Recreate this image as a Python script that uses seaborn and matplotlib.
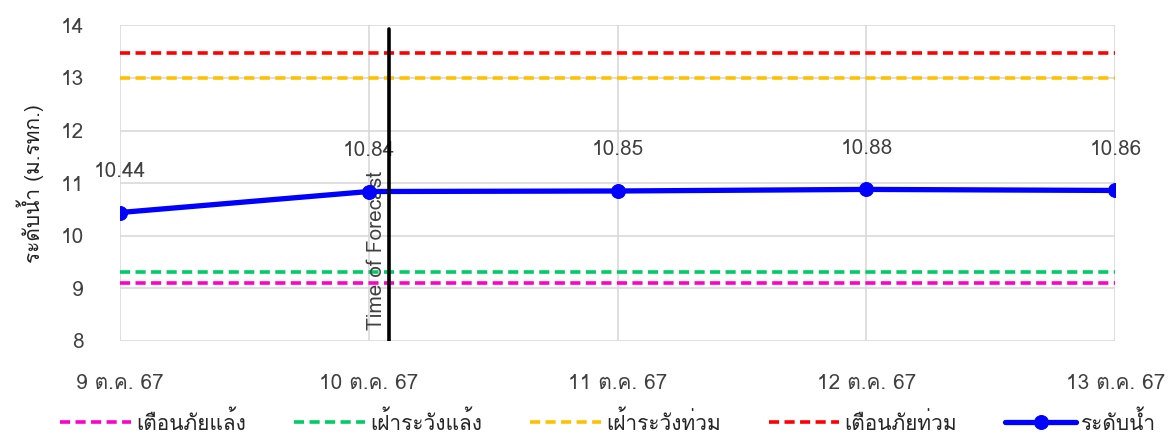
import numpy as np
import pandas as pd
import matplotlib
matplotlib.use("Agg")
import matplotlib.pyplot as plt
import seaborn as sns
from matplotlib import font_manager as fm
from matplotlib.ft2font import FT2Font

# ---- data ----
dates = ["9 ต.ค. 67", "10 ต.ค. 67", "11 ต.ค. 67", "12 ต.ค. 67", "13 ต.ค. 67"]
water_level = [10.44, 10.84, 10.85, 10.88, 10.86]
drought_warning = 9.10      # เตือนภัยแล้ง
drought_watch = 9.30        # เฝ้าระวังแล้ง
flood_watch = 13.00         # เฝ้าระวังท่วม
flood_warning = 13.47       # เตือนภัยท่วม
forecast_pos = 1.08         # Time of Forecast (in day units from first date)
y_ticks = [8, 9, 10, 11, 12, 13, 14]

series_names = ["เตือนภัยแล้ง", "เฝ้าระวังแล้ง", "เฝ้าระวังท่วม", "เตือนภัยท่วม", "ระดับน้ำ"]
series_colors = ["#FF00CC", "#00CC66", "#FFC000", "#FF0000", "#0000FF"]

# ---- font with Thai glyphs ----
thai_font = None
for f in fm.fontManager.ttflist:
    try:
        cm = FT2Font(f.fname).get_charmap()
        if 0x0E40 in cm and 0x0E49 in cm and 0x0E14 in cm:
            thai_font = f.name
            break
    except Exception:
        pass

sns.set_theme(style="white")
fams = [thai_font, "DejaVu Sans"] if thai_font else ["DejaVu Sans"]
plt.rcParams["font.family"] = fams

FS = 15

x = np.arange(len(dates))
rows = []
for name, val in zip(series_names[:4], [drought_warning, drought_watch, flood_watch, flood_warning]):
    for xi in x:
        rows.append({"x": xi, "y": val, "s": name})
thr = pd.DataFrame(rows)
wl = pd.DataFrame({"x": x, "y": water_level})

fig = plt.figure(figsize=(11.74, 4.37), dpi=100)
ax = fig.add_axes([0.102, 0.22, 0.848, 0.722])

for name, col in zip(series_names[:4], series_colors[:4]):
    d = thr[thr["s"] == name]
    sns.lineplot(data=d, x="x", y="y", ax=ax, color=col, lw=2.6,
                 dashes=False, linestyle=(0, (2.8, 1.5)), label=name, zorder=3)

sns.lineplot(data=wl, x="x", y="y", ax=ax, color=series_colors[4], lw=3.8,
             marker="o", markersize=10, markeredgecolor=series_colors[4],
             label=series_names[4], zorder=4)

for xi, v in zip(x, water_level):
    ax.text(xi, v + 0.78, f"{v:.2f}", ha="center", va="center",
            fontsize=FS, color="#404040")

ax.axvline(forecast_pos, ymax=0.99, color="black", lw=2.6, zorder=5)
ax.text(forecast_pos - 0.01, 8.2, "Time of Forecast", rotation=90, ha="right",
        va="bottom", fontsize=FS, color="#404040")

ax.set_xlim(0, 4)
ax.set_ylim(8, 14)
ax.set_xticks(x)
ax.set_xticklabels(dates)
ax.set_yticks(y_ticks)
ax.grid(True, color="#D9D9D9", lw=1.2)
for sp in ax.spines.values():
    sp.set_visible(False)
ax.tick_params(axis="both", length=0, labelsize=FS, colors="#404040")
ax.tick_params(axis="x", pad=24)
ax.tick_params(axis="y", pad=26)
ax.set_xlabel("")
ax.set_ylabel("ระดับน้ำ (ม.รทก.)", fontsize=FS, color="#222222", labelpad=12)

h, l = ax.get_legend_handles_labels()
ax.get_legend().remove()
fig.legend(h, l, loc="lower center", bbox_to_anchor=(0.518, -0.035), ncol=5,
           frameon=False, fontsize=FS, handlelength=3.4, columnspacing=2.3,
           handletextpad=0.25)

fig.savefig("out.png", dpi=100)
